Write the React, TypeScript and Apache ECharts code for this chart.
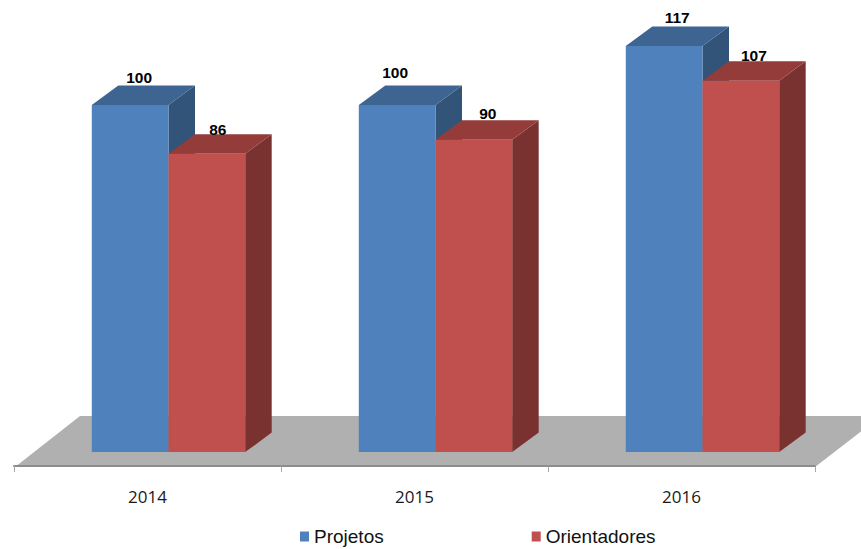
import React, { useEffect, useRef } from "react";
import * as echarts from "echarts";

const categories = ["2014", "2015", "2016"];
const projetos = [100, 100, 117];
const orientadores = [86, 90, 107];

const BAR_RATIO = 76.7 / 267;
const GROUP_SHIFT = 21;
const DEPTH_X = 26.5;
const DEPTH_Y = 19.5;
// hand nudges of the value labels relative to the bar's top-front centre [dx, dy]
const projetosNudge = [[9, -27.5], [-2, -33], [13, -29]];
const orientadoresNudge = [[11, -24], [14, -26], [13, -25]];

function bar3d(front: string, top: string, side: string, slot: number, nudges: number[][]) {
  return (params: any, api: any) => {
    const idx = api.value(0);
    const val = api.value(1);
    const [cx, yTop] = api.coord([idx, val]);
    const [, yBase] = api.coord([idx, 0]);
    const w = api.size([1, 0])[0] * BAR_RATIO;
    const x0 = cx + GROUP_SHIFT + slot * w;
    const x1 = x0 + w;
    const n = nudges[idx];
    return {
      type: "group",
      children: [
        { type: "polygon", shape: { points: [[x1, yBase], [x1 + DEPTH_X, yBase - DEPTH_Y], [x1 + DEPTH_X, yTop - DEPTH_Y], [x1, yTop]] }, style: { fill: side } },
        { type: "polygon", shape: { points: [[x0, yTop], [x0 + DEPTH_X, yTop - DEPTH_Y], [x1 + DEPTH_X, yTop - DEPTH_Y], [x1, yTop]] }, style: { fill: top } },
        { type: "rect", shape: { x: x0, y: yTop, width: w, height: yBase - yTop }, style: { fill: front } },
        {
          type: "text",
          z2: 10,
          style: {
            x: x0 + w / 2 + n[0],
            y: yTop + n[1],
            text: String(val),
            fill: "#000",
            font: 'bold 15.5px "Liberation Sans", Arial, sans-serif',
            align: "center",
            verticalAlign: "middle",
          },
        },
      ],
    };
  };
}

export default function App() {
  const ref = useRef<HTMLDivElement>(null);
  useEffect(() => {
    document.body.style.margin = "0";
    const chart = echarts.init(ref.current!, undefined, { renderer: "svg" });
    chart.setOption({
      animation: false,
      backgroundColor: "#fff",
      grid: { left: 14, top: 1, width: 801, height: 465, containLabel: false },
      xAxis: {
        type: "category",
        data: categories,
        boundaryGap: true,
        axisLine: { show: true, onZero: false, lineStyle: { color: "#8c8c8c", width: 2 } },
        axisTick: { show: true, length: 6, lineStyle: { color: "#a6a6a6", width: 1 } },
        axisLabel: { color: "#1a1a1a", fontFamily: "Open Sans", fontSize: 17, margin: 22 },
      },
      yAxis: { type: "value", min: -4, max: 130, show: false },
      legend: {
        left: 300,
        top: 527,
        padding: 0,
        itemWidth: 9,
        itemHeight: 10,
        itemGap: 148,
        icon: "rect",
        selectedMode: false,
        textStyle: { color: "#111", fontFamily: "Liberation Sans", fontSize: 19 },
        data: ["Projetos", "Orientadores"],
      },
      graphic: [
        {
          type: "polygon",
          z: 0,
          shape: { points: [[15, 467], [80, 416], [881, 416], [815, 467]] },
          style: { fill: "#b0b0b0" },
        },
      ],
      series: [
        {
          name: "Projetos",
          type: "custom",
          z: 3,
          itemStyle: { color: "#4F81BD" },
          data: projetos.map((v, i) => [i, v]),
          encode: { x: 0, y: 1 },
          renderItem: bar3d("#4F81BD", "#3E6591", "#335479", -1, projetosNudge),
        },
        {
          name: "Orientadores",
          type: "custom",
          z: 4,
          itemStyle: { color: "#C0504D" },
          data: orientadores.map((v, i) => [i, v]),
          encode: { x: 0, y: 1 },
          renderItem: bar3d("#C0504D", "#933C3A", "#7A3230", 0, orientadoresNudge),
        },
      ],
    });
    return () => chart.dispose();
  }, []);
  return <div ref={ref} style={{ width: 861, height: 549 }} />;
}
